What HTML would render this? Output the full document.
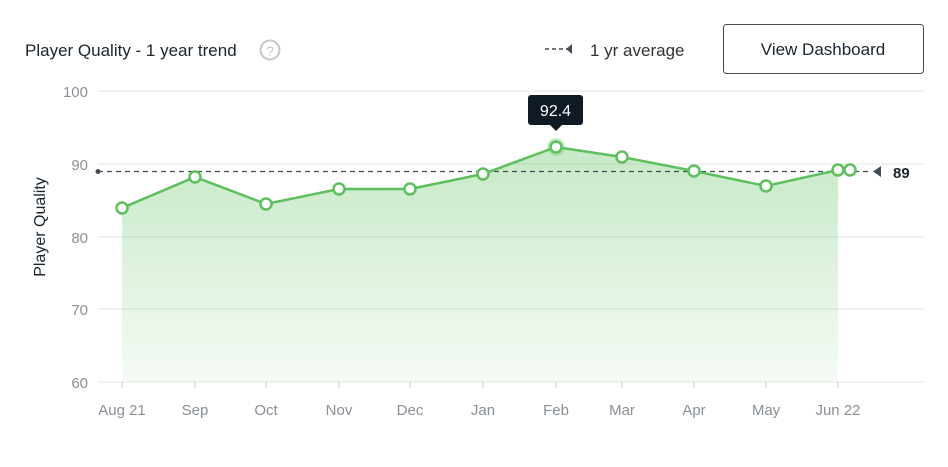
<!DOCTYPE html>
<html><head><style>
body{margin:0;background:#fff;font-family:"Liberation Sans",sans-serif;}
</style></head><body>
<svg width="948" height="462" xmlns="http://www.w3.org/2000/svg" font-family="Liberation Sans, sans-serif">
<defs><linearGradient id="g" x1="0" y1="0" x2="0" y2="1">
<stop offset="0" stop-color="#5cc05c" stop-opacity="0.35"/><stop offset="1" stop-color="#5cc05c" stop-opacity="0.06"/></linearGradient></defs>
<text x="25" y="56" font-size="17" fill="#1a2530">Player Quality - 1 year trend</text>
<circle cx="270" cy="50" r="9.5" fill="none" stroke="#c4c8cc" stroke-width="2"/>
<text x="270" y="56" font-size="14" fill="#c4c8cc" text-anchor="middle">?</text>
<line x1="545" y1="49" x2="572" y2="49" stroke="#444c55" stroke-width="1.5" stroke-dasharray="4,3"/>
<polygon points="572,44 572,54 566,49" fill="#444c55"/>
<text x="590" y="56" font-size="17" fill="#333">1 yr average</text>
<rect x="723.5" y="24.5" width="200" height="49" rx="3" fill="#fff" stroke="#444c55"/>
<text x="823" y="55" font-size="17" fill="#1a2530" text-anchor="middle" font-weight="500">View Dashboard</text>
<g stroke="#e4e6e8" stroke-width="1">
<line x1="98" y1="91" x2="925" y2="91"/><line x1="98" y1="164" x2="925" y2="164"/>
<line x1="98" y1="237" x2="925" y2="237"/><line x1="98" y1="309" x2="925" y2="309"/>
<line x1="98" y1="382" x2="925" y2="382"/></g>
<g font-size="15" fill="#8a9097" text-anchor="end">
<text x="88" y="97">100</text><text x="88" y="170">90</text><text x="88" y="243">80</text><text x="88" y="315">70</text><text x="88" y="388">60</text></g>
<text transform="translate(45,227) rotate(-90)" font-size="16" fill="#1a2530" text-anchor="middle">Player Quality</text>
<polygon points="122,208 195,177 266,204 339,189 410,189 483,174 556,147 622,157 694,171 766,186 838,170 838,382 122,382" fill="url(#g)"/>
<line x1="98" y1="171.5" x2="872" y2="171.5" stroke="#444c55" stroke-width="1.2" stroke-dasharray="5,4"/>
<circle cx="98" cy="171.5" r="2.5" fill="#444c55"/>
<polygon points="881,166 881,177 873,171.5" fill="#444c55"/>
<text x="893" y="178" font-size="15" font-weight="bold" fill="#1a2530">89</text>
<polyline points="122,208 195,177 266,204 339,189 410,189 483,174 556,147 622,157 694,171 766,186 838,170 850,170" fill="none" stroke="#5cc05c" stroke-width="2.5"/>
<circle cx="556" cy="147" r="9" fill="#5cc05c" opacity="0.3"/>
<g fill="#fff" stroke="#5cc05c" stroke-width="2.5">
<circle cx="122" cy="208" r="5.5"/><circle cx="195" cy="177" r="5.5"/><circle cx="266" cy="204" r="5.5"/>
<circle cx="339" cy="189" r="5.5"/><circle cx="410" cy="189" r="5.5"/><circle cx="483" cy="174" r="5.5"/>
<circle cx="556" cy="147" r="5.5"/><circle cx="622" cy="157" r="5.5"/><circle cx="694" cy="171" r="5.5"/>
<circle cx="766" cy="186" r="5.5"/><circle cx="838" cy="170" r="5.5"/><circle cx="850" cy="170" r="5.5"/></g>
<rect x="528" y="95" width="55" height="30" rx="3" fill="#0f1a24"/>
<polygon points="550,125 562,125 556,131" fill="#0f1a24"/>
<text x="555.5" y="116" font-size="16" fill="#fff" text-anchor="middle">92.4</text>
<g stroke="#c4c8cc"><line x1="122" y1="382" x2="122" y2="388"/><line x1="195" y1="382" x2="195" y2="388"/><line x1="266" y1="382" x2="266" y2="388"/><line x1="339" y1="382" x2="339" y2="388"/><line x1="410" y1="382" x2="410" y2="388"/><line x1="483" y1="382" x2="483" y2="388"/><line x1="556" y1="382" x2="556" y2="388"/><line x1="622" y1="382" x2="622" y2="388"/><line x1="694" y1="382" x2="694" y2="388"/><line x1="766" y1="382" x2="766" y2="388"/><line x1="838" y1="382" x2="838" y2="388"/></g>
<g font-size="15" fill="#8a9097" text-anchor="middle">
<text x="122" y="415">Aug 21</text><text x="195" y="415">Sep</text><text x="266" y="415">Oct</text><text x="339" y="415">Nov</text><text x="410" y="415">Dec</text><text x="483" y="415">Jan</text><text x="556" y="415">Feb</text><text x="622" y="415">Mar</text><text x="694" y="415">Apr</text><text x="766" y="415">May</text><text x="838" y="415">Jun 22</text></g>
</svg>
</body></html>
